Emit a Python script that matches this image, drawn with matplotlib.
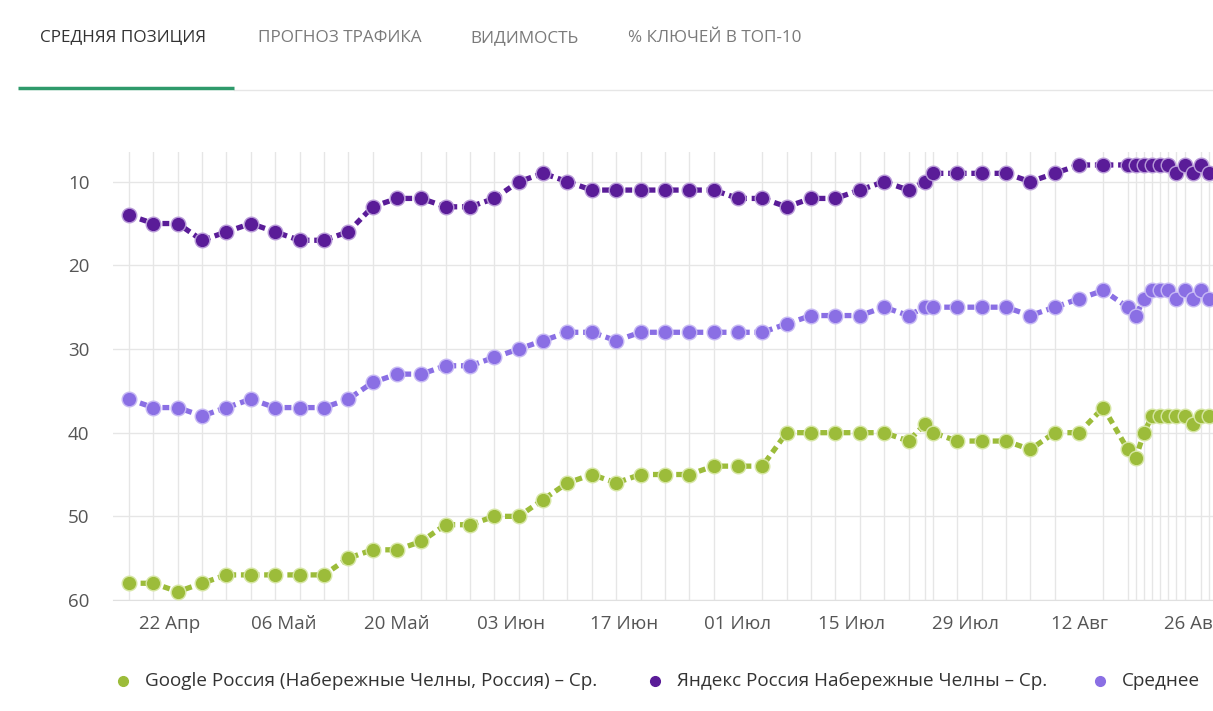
import pandas as pd
import matplotlib.pyplot as plt
from matplotlib.lines import Line2D

plt.rcParams['font.family'] = ['Open Sans', 'DejaVu Sans']

# Dates of the observations
dates = pd.to_datetime([
    '2019-04-17', '2019-04-20', '2019-04-23', '2019-04-26', '2019-04-29',
    '2019-05-02', '2019-05-05', '2019-05-08', '2019-05-11', '2019-05-14',
    '2019-05-17', '2019-05-20', '2019-05-23', '2019-05-26', '2019-05-29',
    '2019-06-01', '2019-06-04', '2019-06-07', '2019-06-10', '2019-06-13',
    '2019-06-16', '2019-06-19', '2019-06-22', '2019-06-25', '2019-06-28',
    '2019-07-01', '2019-07-04', '2019-07-07', '2019-07-10', '2019-07-13',
    '2019-07-16', '2019-07-19', '2019-07-22', '2019-07-24', '2019-07-25',
    '2019-07-28', '2019-07-31', '2019-08-03', '2019-08-06', '2019-08-09',
    '2019-08-12', '2019-08-15', '2019-08-18', '2019-08-19', '2019-08-20',
    '2019-08-21', '2019-08-22', '2019-08-23', '2019-08-24', '2019-08-25',
    '2019-08-26', '2019-08-27', '2019-08-28',
])

google = [58, 58, 59, 58, 57, 57, 57, 57, 57, 55, 54, 54, 53, 51, 51,
          50, 50, 48, 46, 45, 46, 45, 45, 45, 44, 44, 44, 40, 40, 40,
          40, 40, 41, 39, 40, 41, 41, 41, 42, 40, 40, 37,
          42, 43, 40, 38, 38, 38, 38, 38, 39, 38, 38]
yandex = [14, 15, 15, 17, 16, 15, 16, 17, 17, 16, 13, 12, 12, 13, 13,
          12, 10, 9, 10, 11, 11, 11, 11, 11, 11, 12, 12, 13, 12, 12,
          11, 10, 11, 10, 9, 9, 9, 9, 10, 9, 8, 8,
          8, 8, 8, 8, 8, 8, 9, 8, 9, 8, 9]
average = [36, 37, 37, 38, 37, 36, 37, 37, 37, 36, 34, 33, 33, 32, 32,
           31, 30, 29, 28, 28, 29, 28, 28, 28, 28, 28, 28, 27, 26, 26,
           26, 25, 26, 25, 25, 25, 25, 25, 26, 25, 24, 23,
           25, 26, 24, 23, 23, 23, 24, 23, 24, 23, 24]

series_names = ['Google Россия (Набережные Челны, Россия) – Ср.',
                'Яндекс Россия Набережные Челны – Ср.',
                'Среднее']
colors = ['#9cbc3a', '#5a1c98', '#8a6fe4']
edge_colors = ['#d6e6a4', '#b89ad8', '#c6b8f4']

tabs = ['СРЕДНЯЯ ПОЗИЦИЯ', 'ПРОГНОЗ ТРАФИКА', 'ВИДИМОСТЬ', '% КЛЮЧЕЙ В ТОП-10']
label_dates = pd.to_datetime(['2019-04-22', '2019-05-06', '2019-05-20', '2019-06-03',
                              '2019-06-17', '2019-07-01', '2019-07-15', '2019-07-29',
                              '2019-08-12', '2019-08-26'])
label_text = ['22 Апр', '06 Май', '20 Май', '03 Июн', '17 Июн',
              '01 Июл', '15 Июл', '29 Июл', '12 Авг', '26 Авг']

W, H = 1213, 711
fig = plt.figure(figsize=(W / 100, H / 100), dpi=100)
fig.patch.set_facecolor('white')

# Tabs header
tab_x = [40, 258, 470, 628]
for i, (t, x) in enumerate(zip(tabs, tab_x)):
    fig.text(x / W, 1 - 38 / H, t, fontsize=12.3, va='center', ha='left',
             color='#333333' if i == 0 else '#7a7a7a')
fig.add_artist(Line2D([234 / W, 1], [1 - 90 / H] * 2, color='#e6e6e6', lw=1,
                      transform=fig.transFigure))
fig.add_artist(Line2D([18 / W, 234 / W], [1 - 88 / H] * 2, color='#2f9a6b', lw=2.5,
                      transform=fig.transFigure, solid_capstyle='butt'))

# Plot area
left, right, top, bottom = 113, 1213, 152, 600
ax = fig.add_axes([left / W, 1 - bottom / H, (right - left) / W, (bottom - top) / H])

for vals, c, ec in zip([google, yandex, average], colors, edge_colors):
    ax.plot(dates, vals, color=c, lw=3.8, linestyle=(0, (1.3, 0.9)),
            marker='o', markersize=10.5, markerfacecolor=c,
            markeredgecolor=ec, markeredgewidth=1.0, zorder=3)

start = pd.Timestamp('2019-04-17')
ax.set_xlim(start - pd.Timedelta(days=1.97), start + pd.Timedelta(days=133.5))
ax.set_ylim(60, 6.45)

ax.set_yticks([10, 20, 30, 40, 50, 60])
ax.set_xticks(label_dates)
ax.set_xticklabels(label_text)
ax.set_xticks(dates, minor=True)

ax.grid(False)
ax.grid(True, axis='y', which='major', color='#e6e6e6', lw=1)
ax.grid(True, axis='x', which='minor', color='#e6e6e6', lw=1)
ax.set_axisbelow(True)

for s in ['top', 'right', 'left']:
    ax.spines[s].set_visible(False)
ax.spines['bottom'].set_color('#e0e0e0')

ax.tick_params(axis='both', which='both', length=0, labelsize=13.5, colors='#555555')
ax.tick_params(axis='y', pad=17)
ax.tick_params(axis='x', pad=11)

# Legend
leg_dot_x = [123, 655, 1100]
leg_text_x = [145, 677, 1122]
for name, c, dx, tx in zip(series_names, colors, leg_dot_x, leg_text_x):
    fig.add_artist(Line2D([dx / W], [1 - 681 / H], marker='o', markersize=7,
                          color=c, lw=0, transform=fig.transFigure))
    fig.text(tx / W, 1 - 681 / H, name, fontsize=13.6, va='center', ha='left',
             color='#333333')

fig.savefig('out.png', dpi=100)
